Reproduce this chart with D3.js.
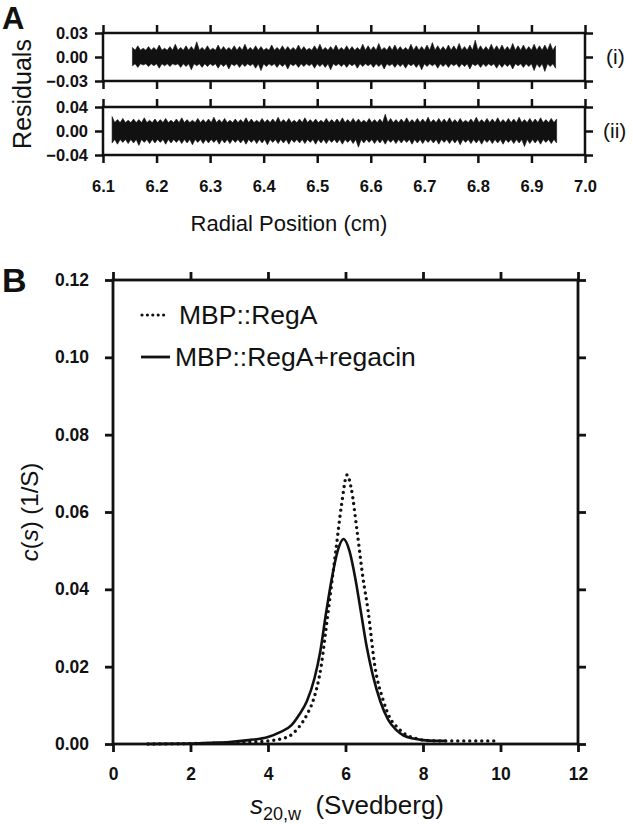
<!DOCTYPE html>
<html>
<head>
<meta charset="utf-8">
<script src="https://cdn.jsdelivr.net/npm/d3@7"></script>
<style>
  html, body { margin: 0; padding: 0; background: #fff; }
  svg { display: block; }
  text { font-family: "Liberation Sans", Arial, Helvetica, sans-serif; fill: #111; }
</style>
</head>
<body>
<svg id="chart" width="633" height="824"></svg>
<script>
// ---------- DATA ----------
// Panel A: residuals, sampled every 0.01 cm (upper / lower peaks of the noise band)
const residStartI = 6.155;
const residCoreI = 0.0085;
const residUpperI = [0.012,0.014,0.011,0.013,0.012,0.015,0.011,0.013,0.016,0.012,
  0.014,0.013,0.019,0.012,0.014,0.011,0.015,0.013,0.012,0.014,
  0.013,0.016,0.012,0.014,0.013,0.011,0.015,0.012,0.014,0.013,
  0.012,0.015,0.013,0.011,0.014,0.016,0.012,0.013,0.015,0.012,
  0.014,0.013,0.012,0.016,0.014,0.013,0.017,0.012,0.014,0.015,
  0.013,0.012,0.016,0.014,0.013,0.015,0.018,0.014,0.013,0.015,
  0.014,0.017,0.013,0.015,0.021,0.014,0.013,0.016,0.014,0.015,
  0.013,0.017,0.014,0.015,0.013,0.016,0.014,0.015,0.017,0.014];
const residLowerI = [-0.011,-0.013,-0.010,-0.012,-0.011,-0.014,-0.011,-0.012,-0.010,-0.013,
  -0.012,-0.016,-0.011,-0.013,-0.012,-0.011,-0.014,-0.012,-0.015,-0.011,
  -0.013,-0.012,-0.011,-0.014,-0.017,-0.012,-0.011,-0.013,-0.012,-0.015,
  -0.011,-0.013,-0.012,-0.011,-0.014,-0.012,-0.013,-0.016,-0.011,-0.012,
  -0.013,-0.011,-0.014,-0.012,-0.011,-0.013,-0.012,-0.015,-0.011,-0.013,
  -0.012,-0.014,-0.011,-0.013,-0.016,-0.012,-0.011,-0.014,-0.012,-0.013,
  -0.011,-0.013,-0.012,-0.015,-0.011,-0.013,-0.012,-0.011,-0.014,-0.013,
  -0.012,-0.015,-0.011,-0.013,-0.012,-0.017,-0.013,-0.018,-0.012,-0.014];
const residStartII = 6.117;
const residCoreII = 0.014;
const residUpperII = [0.024,0.019,0.021,0.018,0.020,0.019,0.022,0.018,0.020,0.019,
  0.021,0.018,0.020,0.022,0.019,0.018,0.021,0.019,0.020,0.023,
  0.019,0.021,0.018,0.020,0.019,0.022,0.020,0.018,0.021,0.019,
  0.020,0.023,0.019,0.021,0.018,0.020,0.022,0.019,0.020,0.018,
  0.021,0.019,0.020,0.022,0.019,0.021,0.020,0.018,0.021,0.019,
  0.020,0.028,0.021,0.019,0.020,0.022,0.019,0.021,0.020,0.023,
  0.019,0.021,0.020,0.022,0.019,0.021,0.018,0.020,0.023,0.019,
  0.021,0.020,0.022,0.019,0.021,0.020,0.023,0.019,0.021,0.020,
  0.022,0.019,0.021,0.020];
const residLowerII = [-0.020,-0.022,-0.019,-0.021,-0.020,-0.024,-0.019,-0.021,-0.020,-0.019,
  -0.022,-0.020,-0.019,-0.021,-0.020,-0.023,-0.019,-0.021,-0.020,-0.019,
  -0.022,-0.020,-0.021,-0.019,-0.020,-0.022,-0.019,-0.021,-0.020,-0.023,
  -0.019,-0.021,-0.020,-0.022,-0.019,-0.020,-0.021,-0.019,-0.022,-0.020,
  -0.021,-0.019,-0.020,-0.022,-0.019,-0.021,-0.027,-0.020,-0.019,-0.021,
  -0.020,-0.022,-0.019,-0.021,-0.020,-0.019,-0.022,-0.020,-0.021,-0.019,
  -0.020,-0.022,-0.019,-0.021,-0.020,-0.023,-0.019,-0.021,-0.020,-0.022,
  -0.019,-0.021,-0.020,-0.022,-0.019,-0.021,-0.020,-0.026,-0.021,-0.020,
  -0.022,-0.019,-0.021,-0.020];
const residStep = 0.01;
const radialTicks = [6.1,6.2,6.3,6.4,6.5,6.6,6.7,6.8,6.9,7.0];
const residTicksI = [-0.03, 0.00, 0.03];
const residTicksII = [-0.04, 0.00, 0.04];

// Panel B: c(s) distributions
const sRegA = [0.9,2.0,3.0,3.5,4.0,4.5,4.8,5.0,5.17,5.37,5.5,5.6,5.75,5.9,6.04,6.15,6.3,6.45,6.58,6.76,6.97,7.15,7.33,7.55,7.8,8.1,8.5,9.0,9.5,9.9];
const cRegA = [0.0,0.0001,0.0003,0.0005,0.0008,0.0018,0.0044,0.0075,0.0114,0.020,0.030,0.038,0.050,0.062,0.0696,0.066,0.055,0.043,0.0347,0.020,0.0114,0.0067,0.0044,0.0025,0.0015,0.0009,0.0008,0.0008,0.0008,0.0008];
const sRegacin = [0.9,1.5,2.0,2.5,3.0,3.5,4.0,4.3,4.6,4.8,5.0,5.2,5.35,5.5,5.65,5.8,5.95,6.1,6.25,6.4,6.55,6.7,6.9,7.1,7.3,7.5,7.75,8.0,8.3,8.6];
const cRegacin = [0.0,0.00005,0.0001,0.0003,0.0005,0.001,0.0018,0.003,0.0048,0.0075,0.011,0.017,0.024,0.034,0.043,0.050,0.053,0.050,0.043,0.034,0.025,0.018,0.011,0.0063,0.0037,0.0022,0.0014,0.001,0.0008,0.0008];
const sTicks = [0,2,4,6,8,10,12];
const cTicks = [0.00,0.02,0.04,0.06,0.08,0.10,0.12];
const legendLabels = ["MBP::RegA", "MBP::RegA+regacin"];

// ---------- DRAW ----------
const svg = d3.select("#chart");
const TICK = 8;

function frameAxes(g, x, y, xt, yt, opts) {
  const [x0, x1] = x.range();
  const [yb, yt0] = y.range();
  const sw = opts.sw;
  const fmtX = opts.xLabels ? opts.xFmt : () => "";
  const ax = [
    d3.axisBottom(x).tickValues(xt).tickSize(TICK).tickSizeOuter(0).tickFormat(fmtX),
    d3.axisTop(x).tickValues(xt).tickSize(TICK).tickSizeOuter(0).tickFormat(""),
    d3.axisLeft(y).tickValues(yt).tickSize(TICK).tickSizeOuter(0).tickFormat(opts.yFmt),
    d3.axisRight(y).tickValues(yt).tickSize(TICK).tickSizeOuter(0).tickFormat("")
  ];
  const trans = [`translate(0,${yb})`, `translate(0,${yt0})`, `translate(${x0},0)`, `translate(${x1},0)`];
  ax.forEach((a, i) => {
    const gg = g.append("g").attr("transform", trans[i]).call(a);
    gg.select(".domain").remove();
    gg.selectAll(".tick line").attr("stroke", "#111").attr("stroke-width", sw);
    gg.selectAll(".tick text").attr("font-size", opts.fs).attr("font-weight", "bold")
      .attr("fill", "#111").style("font-family", '"Liberation Sans", Arial, sans-serif');
    if (i === 0) gg.selectAll(".tick text").attr("dy", opts.xdy);
    if (i === 2) gg.selectAll(".tick text").attr("x", -opts.ypad);
  });
  g.append("rect").attr("x", x0).attr("y", yt0).attr("width", x1 - x0).attr("height", yb - yt0)
    .attr("fill", "none").attr("stroke", "#111").attr("stroke-width", sw);
}

// ----- Panel A -----
const xA = d3.scaleLinear().domain([6.1, 7.0]).range([103, 585]);
const yA1 = d3.scaleLinear().domain([-0.03, 0.03]).range([81, 33]);
const yA2 = d3.scaleLinear().domain([-0.04, 0.04]).range([155, 107]);

function residBand(g, start, up, lo, core, y) {
  // saw-tooth noise band: peaks at each sample, core level in between
  const pts = [];
  up.forEach((u, i) => {
    const r = start + i * residStep;
    pts.push({ r: r, u: u, l: lo[i] });
    if (i < up.length - 1) pts.push({ r: r + residStep / 2, u: core, l: -core });
  });
  const area = d3.area().x(d => xA(d.r)).y0(d => y(d.l)).y1(d => y(d.u));
  g.append("path").datum(pts).attr("d", area).attr("fill", "#111")
    .attr("stroke", "#111").attr("stroke-width", 0.6);
}

const gA = svg.append("g");
residBand(gA, residStartI, residUpperI, residLowerI, residCoreI, yA1);
residBand(gA, residStartII, residUpperII, residLowerII, residCoreII, yA2);
frameAxes(gA, xA, yA1, radialTicks, residTicksI, { sw: 2.5, fs: 16.5, xLabels: false, yFmt: d3.format(".2f"), ypad: 15 });
frameAxes(gA, xA, yA2, radialTicks, residTicksII, { sw: 2.5, fs: 16.5, xLabels: true, xFmt: d3.format(".1f"), xdy: "1.55em", yFmt: d3.format(".2f"), ypad: 15 });

gA.append("text").attr("x", 606).attr("y", 57).attr("dy", "0.35em").attr("font-size", 21).text("(i)");
gA.append("text").attr("x", 603).attr("y", 131).attr("dy", "0.35em").attr("font-size", 21).text("(ii)");
gA.append("text").attr("transform", "translate(31,94) rotate(-90)").attr("text-anchor", "middle")
  .attr("font-size", 25).text("Residuals");
gA.append("text").attr("x", 289).attr("y", 231).attr("text-anchor", "middle")
  .attr("font-size", 22).text("Radial Position (cm)");
svg.append("text").attr("x", 2).attr("y", 29).attr("font-size", 31).attr("font-weight", "bold").text("A");

// ----- Panel B -----
const xB = d3.scaleLinear().domain([0, 12]).range([113, 578]);
const yB = d3.scaleLinear().domain([0, 0.12]).range([744, 280]);
const gB = svg.append("g");

const line = d3.line().x(d => xB(d[0])).y(d => yB(d[1])).curve(d3.curveMonotoneX);
gB.append("path").datum(sRegacin.map((s, i) => [s, cRegacin[i]])).attr("d", line)
  .attr("fill", "none").attr("stroke", "#111").attr("stroke-width", 2.6);
gB.append("path").datum(sRegA.map((s, i) => [s, cRegA[i]])).attr("d", line)
  .attr("fill", "none").attr("stroke", "#111").attr("stroke-width", 3.4)
  .attr("stroke-linecap", "round").attr("stroke-dasharray", "0,6");

frameAxes(gB, xB, yB, sTicks, cTicks, { sw: 2.8, fs: 17.5, xLabels: true, xFmt: d3.format("d"), xdy: "1.4em", yFmt: d3.format(".2f"), ypad: 24 });

// legend
gB.append("line").attr("x1", 142).attr("x2", 169).attr("y1", 315).attr("y2", 315)
  .attr("stroke", "#111").attr("stroke-width", 3.2).attr("stroke-linecap", "round").attr("stroke-dasharray", "0,5.4");
gB.append("text").attr("x", 179).attr("y", 315).attr("dy", "0.35em").attr("font-size", 26.5).text(legendLabels[0]);
gB.append("line").attr("x1", 141).attr("x2", 170).attr("y1", 357).attr("y2", 357)
  .attr("stroke", "#111").attr("stroke-width", 2.8);
gB.append("text").attr("x", 175).attr("y", 357).attr("dy", "0.35em").attr("font-size", 26.5).text(legendLabels[1]);

// axis titles
const yt = gB.append("text").attr("transform", "translate(38,512) rotate(-90)").attr("text-anchor", "middle").attr("font-size", 24);
yt.append("tspan").attr("font-style", "italic").text("c");
yt.append("tspan").text("(");
yt.append("tspan").attr("font-style", "italic").text("s");
yt.append("tspan").text(") (1/S)");

const xt = gB.append("text").attr("x", 347).attr("y", 814).attr("text-anchor", "middle").attr("font-size", 26);
xt.append("tspan").attr("font-style", "italic").text("s");
xt.append("tspan").attr("font-size", 18).attr("dy", 6).text("20,w");
xt.append("tspan").attr("dy", -6).text("\u00a0\u00a0(Svedberg)");

svg.append("text").attr("x", 2).attr("y", 292).attr("font-size", 34).attr("font-weight", "bold").text("B");
</script>
</body>
</html>
